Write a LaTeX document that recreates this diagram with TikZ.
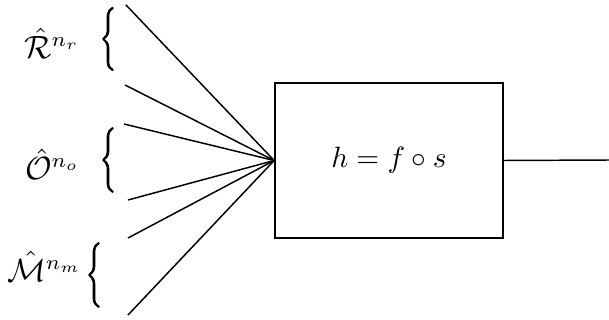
\documentclass[tikz,border=0pt]{standalone}
\usepackage{amsmath}
\usepackage{graphicx}
\newcommand{\boldbrace}[1]{\special{pdf:literal direct q 2 Tr 0.35 w}#1\special{pdf:literal direct 0 Tr Q}}
\begin{document}
\begin{tikzpicture}[x=0.34pt,y=-0.34pt,
  wire/.style={line width=0.5pt},
  lbl/.style={anchor=east,inner sep=0pt,font=\fontsize{10.5}{12}\selectfont},
  brc/.style={inner sep=0pt}]
\useasboundingbox (0,0) rectangle (609,320);
\node[draw,line width=0.6pt,minimum width=77.5pt,minimum height=52.7pt,inner sep=0pt] (box) at (389,160.5) {$h = f\circ s$};
% labels
\node[lbl] (R) at (80,43) {$\hat{\mathcal{R}}^{n_r}$};
\node[lbl] (O) at (80,164) {$\hat{\mathcal{O}}^{n_o}$};
\node[lbl] (M) at (82,266) {$\hat{\mathcal{M}}^{n_m}$};
% braces
\node[brc] (bR) at (108,39) {\boldbrace{\resizebox*{5.5pt}{21.5pt}{$\bigg\{$}}};
\node[brc] (bO) at (108,160) {\boldbrace{\resizebox*{5.5pt}{22pt}{$\bigg\{$}}};
\node[brc] (bM) at (94,275) {\boldbrace{\resizebox*{5.5pt}{22pt}{$\bigg\{$}}};
% line ends
\coordinate (a1) at (126,5);
\coordinate (a2) at (125,85);
\coordinate (a3) at (124,124);
\coordinate (a4) at (128,200);
\coordinate (a5) at (128,238);
\coordinate (a6) at (128,315);
\foreach \p in {a1,a2,a3,a4,a5,a6}{\draw[wire] (\p) -- (box.west);}
\coordinate (out) at (609,160);
\draw[wire] (box.east) -- (out);
\end{tikzpicture}
\end{document}
